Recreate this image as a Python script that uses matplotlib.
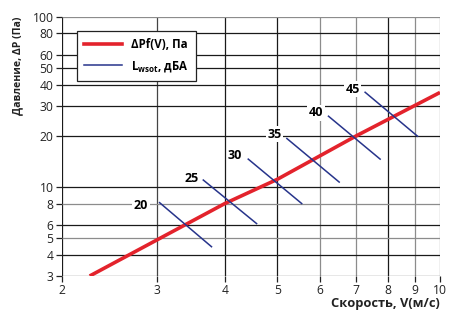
import matplotlib
matplotlib.use("Agg")
import matplotlib.pyplot as plt
from matplotlib.lines import Line2D

plt.rcParams['font.family'] = ['Open Sans', 'DejaVu Sans']

# Red pressure curve ΔP f(V)
v_curve = [2.25, 3, 4, 5, 7, 10]
p_curve = [3.0, 4.9, 8.0, 11.1, 20.0, 36.0]

# Noise level segments L (dBA)
noise_levels = ['20', '25', '30', '35', '40', '45']
seg_v0 = [3.03, 3.65, 4.42, 5.21, 6.22, 7.27]
seg_p0 = [8.1, 11.0, 14.6, 19.3, 26.1, 36.1]
seg_v1 = [3.78, 4.58, 5.55, 6.51, 7.75, 9.09]
seg_p1 = [4.46, 6.1, 8.0, 10.7, 14.6, 19.9]
lab_v = [2.80, 3.48, 4.18, 4.95, 5.90, 6.90]
lab_p = [7.8, 11.3, 15.4, 20.5, 27.3, 37.6]

x_ticks = [2, 3, 4, 5, 6, 7, 8, 9, 10]
y_ticks = [3, 4, 5, 6, 8, 10, 20, 30, 40, 50, 60, 80, 100]

fig = plt.figure(figsize=(4.62, 3.22), dpi=100)
ax = fig.add_axes([62/462, 1-276/322, (440-62)/462, (276-17)/322])
ax.set_xscale('log')
ax.set_yscale('log')
ax.set_xlim(2, 10)
ax.set_ylim(3, 100)

dark = '#1a1a1a'
grey = '#8c8c8c'
xcol = {2: dark, 3: '#444444', 4: dark, 5: dark, 6: grey, 7: grey, 8: dark, 9: grey, 10: grey}
ycol = {3: '#444444', 4: dark, 5: grey, 6: dark, 8: grey, 10: dark, 20: dark, 30: dark,
        40: dark, 50: dark, 60: dark, 80: dark, 100: grey}
for xv in x_ticks:
    ax.axvline(xv, color=xcol[xv], lw=0.9, zorder=1)
for yv in y_ticks:
    ax.axhline(yv, color=ycol[yv], lw=0.9, zorder=1)

for s in ax.spines.values():
    s.set_visible(False)

ax.set_xticks(x_ticks)
ax.set_xticklabels([str(t) for t in x_ticks])
ax.set_yticks(y_ticks)
ax.set_yticklabels([str(t) for t in y_ticks])
ax.minorticks_off()
ax.tick_params(axis='both', labelsize=8.7, colors='#222222', length=4, width=0.9, direction='out', pad=2)

ax.plot(v_curve, p_curve, color='#e3232c', lw=2.6, zorder=3, solid_capstyle='butt')

for lab, x0, y0, x1, y1, lx, ly in zip(noise_levels, seg_v0, seg_p0, seg_v1, seg_p1, lab_v, lab_p):
    ax.plot([x0, x1], [y0, y1], color='#27348b', lw=1.1, zorder=4)
    ax.text(lx, ly, lab, fontsize=9, fontweight='bold', ha='center', va='center', zorder=5,
            bbox=dict(facecolor='white', edgecolor='none', pad=1.0))

handles = [Line2D([], [], color='#e3232c', lw=2.6),
           Line2D([], [], color='#27348b', lw=1.1)]
labels = ['ΔPf(V), Па', r'L$_{\mathregular{wsot}}$, дБА']
leg = ax.legend(handles, labels, loc='upper left', bbox_to_anchor=(77/462, 1-31/322),
                bbox_transform=fig.transFigure, frameon=True, fancybox=False, borderaxespad=0,
                handlelength=3.3, borderpad=0.6, labelspacing=0.7, handletextpad=0.8,
                prop={'size': 8.3, 'weight': 'bold'}, framealpha=1)
leg.get_frame().set_edgecolor('#222222')
leg.get_frame().set_linewidth(0.9)
leg.set_zorder(10)

fig.text(440/462, 1-304/322, 'Скорость, V(м/с)', ha='right', va='center',
         fontsize=9.3, fontweight='bold', color='#222222')
fig.text(18/462, 1-66/322, 'Давление, ΔP (Па)', ha='center', va='center', rotation=90,
         fontsize=7.6, fontweight='bold', color='#222222')

fig.savefig('out.png', dpi=100)
